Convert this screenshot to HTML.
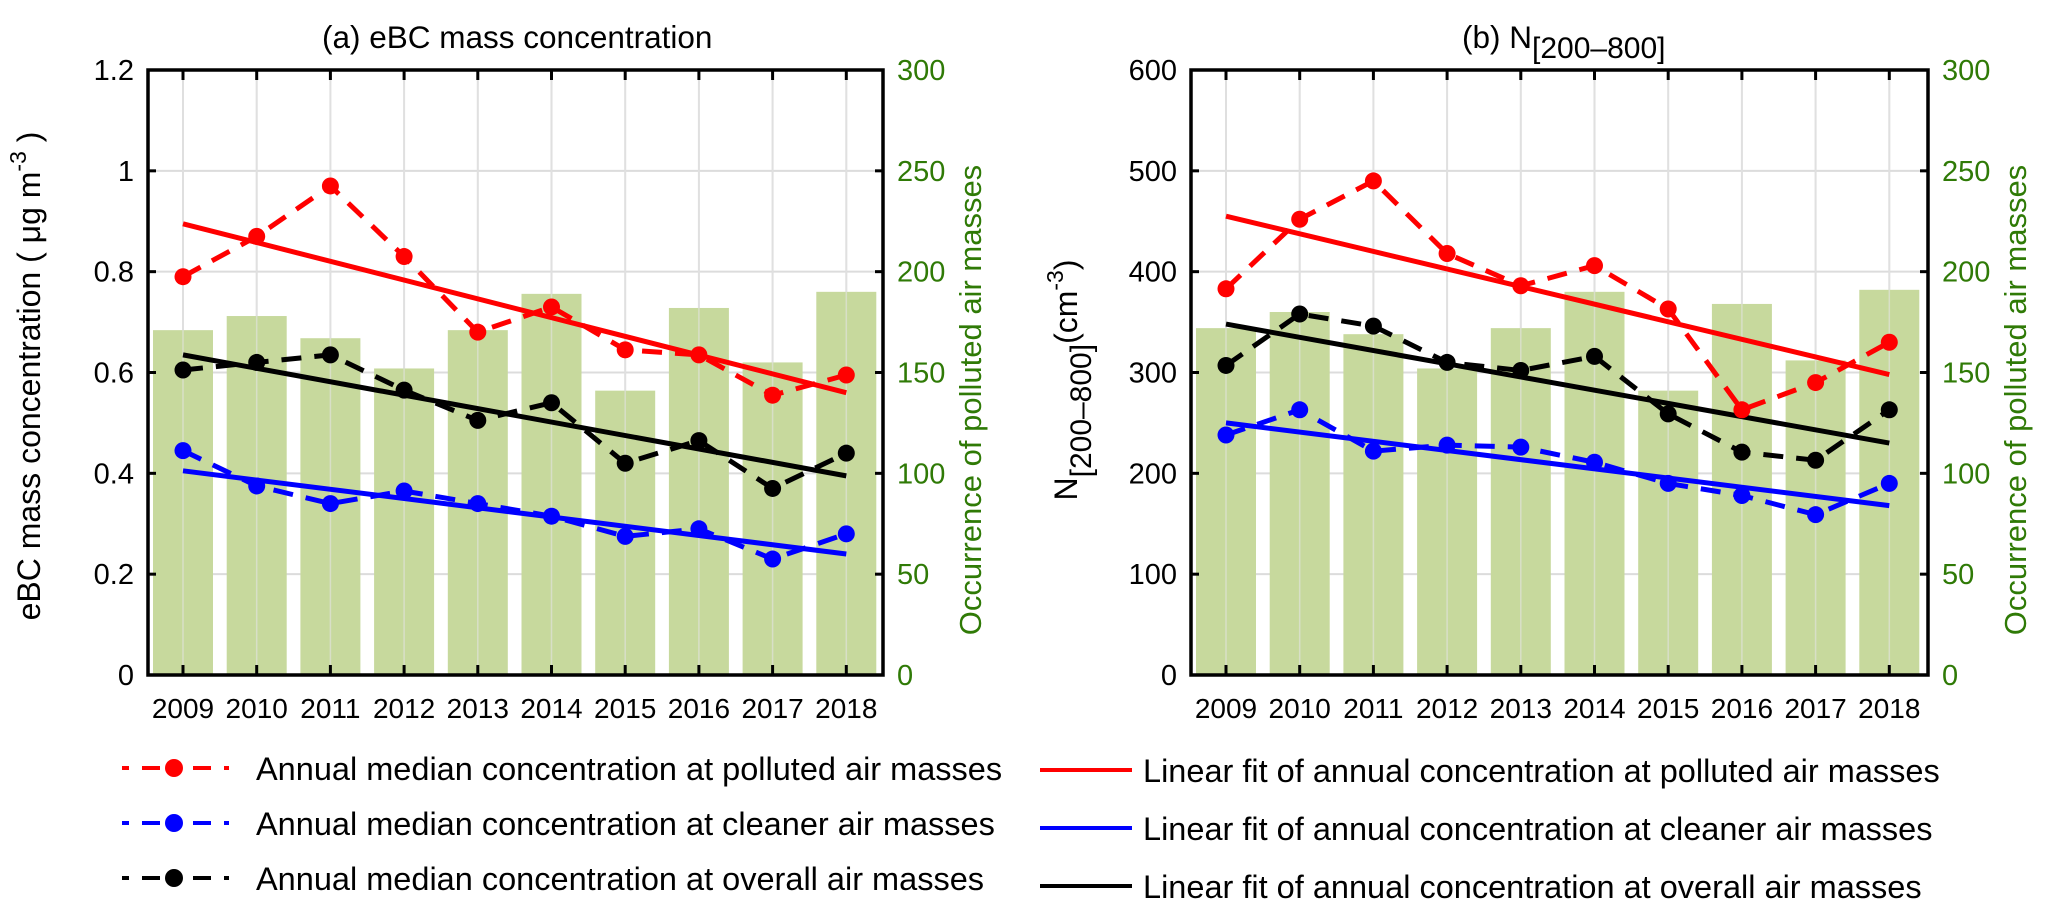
<!DOCTYPE html>
<html><head><meta charset="utf-8"><style>
body{margin:0;background:#fff;}
svg{display:block;font-family:"Liberation Sans",sans-serif;}
</style></head><body>
<svg id="c" width="2067" height="915" viewBox="0 0 2067 915"></svg>
<script>
const years=[2009,2010,2011,2012,2013,2014,2015,2016,2017,2018];
const occurrence=[171,178,167,152,171,189,141,182,155,190];
const occurrenceB=[172,180,169,152,172,190,141,184,156,191];
const ebcPolluted=[0.79,0.87,0.97,0.83,0.68,0.73,0.645,0.635,0.555,0.595];
const ebcCleaner=[0.445,0.375,0.34,0.365,0.34,0.315,0.275,0.29,0.23,0.28];
const ebcOverall=[0.605,0.62,0.635,0.565,0.505,0.54,0.42,0.465,0.37,0.44];
const ebcFitPolluted=[0.895,0.56];
const ebcFitCleaner=[0.405,0.24];
const ebcFitOverall=[0.635,0.395];
const nPolluted=[383,452,490,418,386,406,363,263,290,330];
const nCleaner=[238,263,222,228,226,211,190,178,159,190];
const nOverall=[307,358,346,310,302,316,259,221,213,263];
const nFitPolluted=[455,298];
const nFitCleaner=[250,168];
const nFitOverall=[348,230];
const ebcTicks=[0,0.2,0.4,0.6,0.8,1,1.2];
const ebcTickLabels=["0","0.2","0.4","0.6","0.8","1","1.2"];
const nTicks=[0,100,200,300,400,500,600];
const occTicks=[0,50,100,150,200,250,300];

const NS="http://www.w3.org/2000/svg";
const svg=document.getElementById('c');
function mk(tag,attrs,parent,text){const e=document.createElementNS(NS,tag);for(const k in attrs)e.setAttribute(k,attrs[k]);if(text!==undefined)e.textContent=text;(parent||svg).appendChild(e);return e;}

function panel(o){
  const g=mk('g',{});
  
  
  const L=o.left,R=o.right,T=70,B=675,x0=L+35,dx=73.7;
  const xs=i=>x0+i*dx;
  const ys=v=>B-(v/o.ymax)*(B-T);
  const yo=v=>B-(v/300)*(B-T);
  o.ticks.forEach(t=>{const l=mk('line',{x1:L,x2:R,y1:ys(t),y2:ys(t),stroke:'#dcdcdc','stroke-width':2},g);
    });
  years.forEach((y,i)=>{const l=mk('line',{x1:xs(i),x2:xs(i),y1:T,y2:B,stroke:'#dcdcdc','stroke-width':2},g);
    });
  o.bars.forEach((v,i)=>{const r=mk('rect',{x:xs(i)-30,y:yo(v),width:60,height:B-yo(v),fill:'#c7d99d'},g);
    });
  years.forEach((y,i)=>{mk('line',{x1:xs(i),x2:xs(i),y1:T,y2:B,stroke:'#e4e4e4','stroke-width':1.5,opacity:0.6},g);});
  [[o.fitP,'#ff0000','fit-polluted'],[o.fitC,'#0000ff','fit-cleaner'],[o.fitO,'#000','fit-overall']].forEach(s=>{
    const l=mk('line',{x1:xs(0),x2:xs(9),y1:ys(s[0][0]),y2:ys(s[0][1]),stroke:s[1],'stroke-width':5},g);
    });
  [[o.p,'#ff0000','polluted'],[o.c,'#0000ff','cleaner'],[o.o,'#000','overall']].forEach(s=>{
    const pts=s[0].map((v,i)=>xs(i)+','+ys(v)).join(' ');
    const pl=mk('polyline',{points:pts,fill:'none',stroke:s[1],'stroke-width':5,'stroke-dasharray':'20 13'},g);
    
    s[0].forEach((v,i)=>{const c=mk('circle',{cx:xs(i),cy:ys(v),r:8.5,fill:s[1]},g);
      });
  });
  const ax=mk('path',{d:`M${L},${T}H${R}V${B}H${L}Z`,fill:'none',stroke:'#000','stroke-width':3.5},g);
  
  years.forEach((y,i)=>{
    mk('line',{x1:xs(i),x2:xs(i),y1:B,y2:B-10,stroke:'#000','stroke-width':3},g);
    mk('line',{x1:xs(i),x2:xs(i),y1:T,y2:T+10,stroke:'#000','stroke-width':3},g);
    const t=mk('text',{x:xs(i),y:B+43,'text-anchor':'middle','font-size':28,fill:'#000'},g,String(y));
    
  });
  o.ticks.forEach((v,i)=>{
    mk('line',{x1:L,x2:L+8,y1:ys(v),y2:ys(v),stroke:'#000','stroke-width':3},g);
    const t=mk('text',{x:L-14,y:ys(v)+10,'text-anchor':'end','font-size':29,fill:'#000'},g,o.tickLabels[i]);
    
  });
  occTicks.forEach(v=>{
    mk('line',{x1:R,x2:R-8,y1:yo(v),y2:yo(v),stroke:'#000','stroke-width':3},g);
    const t=mk('text',{x:R+14,y:yo(v)+10,'font-size':29,fill:'#2f7a06'},g,String(v));
    
  });
  const rl=mk('text',{x:0,y:0,'font-size':31,fill:'#2f7a06','text-anchor':'middle',transform:`translate(${R+98},${400}) rotate(-90)`},g,'Occurrence of polluted air masses');
  
  return g;
}
panel({name:'panel-a-ebc',left:148,right:883,ymax:1.2,ticks:ebcTicks,tickLabels:ebcTickLabels,bars:occurrence,
  p:ebcPolluted,c:ebcCleaner,o:ebcOverall,fitP:ebcFitPolluted,fitC:ebcFitCleaner,fitO:ebcFitOverall});
panel({name:'panel-b-n200-800',left:1191,right:1928,ymax:600,ticks:nTicks,tickLabels:nTicks.map(String),bars:occurrenceB,
  p:nPolluted,c:nCleaner,o:nOverall,fitP:nFitPolluted,fitC:nFitCleaner,fitO:nFitOverall});
</script>
<svg style="position:absolute;left:0;top:0" width="2067" height="915">
  <text x="322" y="48" font-size="31.5">(a) eBC mass concentration</text>
  <text x="1462" y="48" font-size="31.5">(b) N<tspan font-size="30" dy="10">[200–800]</tspan></text>
  <text transform="translate(40,376) rotate(-90)" text-anchor="middle" font-size="32">eBC mass concentration ( μg m<tspan font-size="23" dy="-14">-3</tspan><tspan dy="14"> )</tspan></text>
  <text transform="translate(1077,380) rotate(-90)" text-anchor="middle" font-size="32">N<tspan font-size="30" dy="14">[200–800]</tspan><tspan dy="-14">(cm</tspan><tspan font-size="23" dy="-14">-3</tspan><tspan dy="14">)</tspan></text>
  <g>
    <g>
      <line x1="122" x2="229" y1="768" y2="768" stroke="#f00" stroke-width="4" stroke-dasharray="7 13 18 13"/>
      <circle cx="174" cy="768" r="9" fill="#f00"/>
      <text x="256" y="780" font-size="32.5">Annual median concentration at polluted air masses</text>
    </g>
    <g>
      <line x1="122" x2="229" y1="823" y2="823" stroke="#00f" stroke-width="4" stroke-dasharray="7 13 18 13"/>
      <circle cx="174" cy="823" r="9" fill="#00f"/>
      <text x="256" y="835" font-size="32.5">Annual median concentration at cleaner air masses</text>
    </g>
    <g>
      <line x1="122" x2="229" y1="878" y2="878" stroke="#000" stroke-width="4" stroke-dasharray="7 13 18 13"/>
      <circle cx="174" cy="878" r="9" fill="#000"/>
      <text x="256" y="890" font-size="32.5">Annual median concentration at overall air masses</text>
    </g>
    <g>
      <line x1="1040" x2="1132" y1="770" y2="770" stroke="#f00" stroke-width="4"/>
      <text x="1143" y="782" font-size="32.5">Linear fit of annual concentration at polluted air masses</text>
    </g>
    <g>
      <line x1="1040" x2="1132" y1="828" y2="828" stroke="#00f" stroke-width="4"/>
      <text x="1143" y="840" font-size="32.5">Linear fit of annual concentration at cleaner air masses</text>
    </g>
    <g>
      <line x1="1040" x2="1132" y1="886" y2="886" stroke="#000" stroke-width="4"/>
      <text x="1143" y="898" font-size="32.5">Linear fit of annual concentration at overall air masses</text>
    </g>
  </g>
</svg>
</body></html>
